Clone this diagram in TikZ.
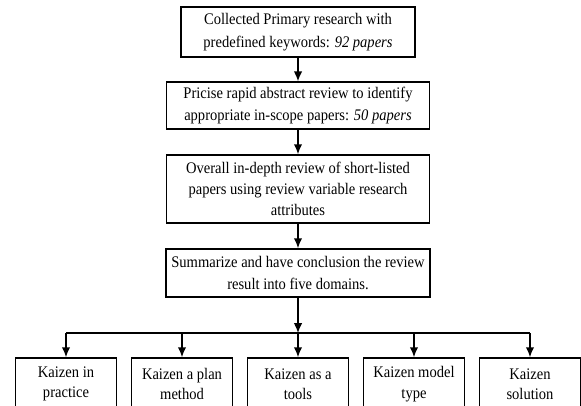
\documentclass[tikz,border=0pt]{standalone}
\usepackage{fontspec}
\setmainfont{Liberation Serif}[FakeStretch=0.9]
\usetikzlibrary{arrows.meta}
\begin{document}
\begin{tikzpicture}[>={Latex[length=7pt,width=6pt]},
  box/.style={draw,line width=1.2pt,align=center,inner sep=0pt,font=\fontsize{11.5}{16}\selectfont},
  kbox/.style={box,minimum width=2.525cm,minimum height=1.3cm,font=\fontsize{11.5}{14.5}\selectfont}]
\useasboundingbox (0,0) rectangle (14.525,-10.125);
\clip (0,0) rectangle (14.525,-10.125);

\node[box,minimum width=5.85cm,minimum height=1.25cm] (collect) at (7.45,-0.8)
 {Collected Primary research with\\predefined keywords: \textit{92 papers}};
\node[box,minimum width=6.575cm,minimum height=1.175cm] (rapid) at (7.45,-2.64)
 {Pricise rapid abstract review to identify\\appropriate in-scope papers: \textit{50 papers}};
\node[box,minimum width=6.575cm,minimum height=1.7cm,font=\fontsize{11.5}{15}\selectfont] (depth) at (7.45,-4.725)
 {Overall in-depth review of short-listed\\papers using review variable research\\attributes};
\node[box,minimum width=6.6cm,minimum height=1.2cm] (summ) at (7.45,-6.825)
 {Summarize and have conclusion the review\\result into five domains.};

\node[kbox] (k1) at (1.65,-9.6) {Kaizen in\\practice};
\node[kbox] (k2) at (4.55,-9.6) {Kaizen a plan\\method};
\node[kbox] (k3) at (7.45,-9.6) {Kaizen as a\\tools};
\node[kbox] (k4) at (10.35,-9.6) {Kaizen model\\type};
\node[kbox] (k5) at (13.25,-9.6) {Kaizen\\solution};

\draw[->,line width=1pt] (collect) -- (rapid);
\draw[->,line width=1pt] (rapid) -- (depth);
\draw[->,line width=1pt] (depth) -- (summ);

\coordinate (bus) at (7.45,-8.325);
\draw[->,line width=1pt] (summ) -- (bus);
\draw[line width=1pt] (k1.north |- bus) -- (k5.north |- bus);
\foreach \i in {1,...,5}
 \draw[->,line width=1pt] (k\i.north |- bus) -- (k\i);
\end{tikzpicture}
\end{document}
